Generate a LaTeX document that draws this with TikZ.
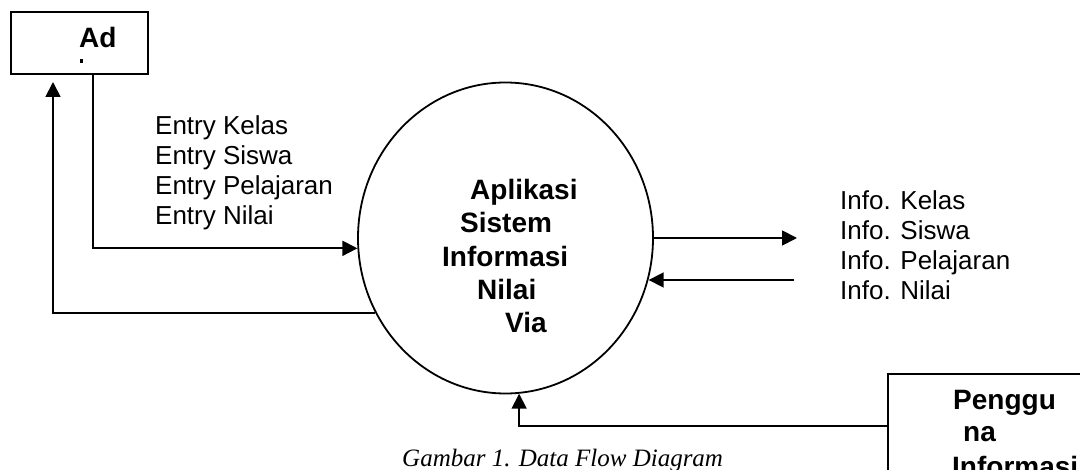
\documentclass[tikz,border=0pt]{standalone}
\usepackage{fontspec}
\setmainfont{Liberation Sans}
\newfontfamily\capfont{Liberation Serif}
\usetikzlibrary{calc, arrows.meta, shapes.geometric}

\begin{document}
\begin{tikzpicture}[x=1pt, y=-1pt,
    entity/.style={draw, line width=1.8pt, inner sep=0pt},
    flow/.style={line width=1.8pt, -{Triangle[length=15pt, width=15pt]}},
    lbl/.style={anchor=base west, inner sep=0pt, font=\fontsize{26}{30}\selectfont},
    proclbl/.style={anchor=base west, inner sep=0pt, font=\fontsize{28}{33}\bfseries\selectfont}]

      \useasboundingbox (0,0) rectangle (1080,470);
      \clip (0,0) rectangle (1080,470);

      % external entity: admin
      \node[entity, anchor=north west, minimum width=137pt, minimum height=62pt] (admin) at (10,11) {};
      \node[proclbl] (admintxt) at (79,48) {Ad};
      \fill (79.5,59.5) rectangle (83,63);

      % process
      \node[entity, ellipse, minimum width=295pt, minimum height=311pt] (proses) at (505.5,238) {};
      \node[proclbl] (p1) at (470,200) {Aplikasi};
      \node[proclbl] (p2) at (460,233) {Sistem};
      \node[proclbl] (p3) at (442,267) {Informasi};
      \node[proclbl] (p4) at (477,300) {Nilai};
      \node[proclbl] (p5) at (505,333) {Via};

      % external entity: pengguna
      \node[entity, anchor=north west, minimum width=260pt, minimum height=160pt] (pengguna) at (887,373) {};
      \node[proclbl] (u1txt) at (953,410) {Penggu};
      \node[proclbl] (u2txt) at (963,442) {na};
      \node[proclbl] (u3txt) at (952,477) {Informasi};

      % flow labels
      \foreach \t [count=\i] in {Entry Kelas, Entry Siswa, Entry Pelajaran, Entry Nilai} {
          \node[lbl] (entry\i) at (155, 135+30*\i-30) {\t};
      }
      \foreach \t [count=\i] in {Info. Kelas, Info. Siswa, Info. Pelajaran, Info. Nilai} {
          \node[lbl] (info\i) at (840, 210+30*\i-30) {\t};
      }

      \coordinate (adminout) at (93,73);
      \coordinate (adminin) at (53,82);
      \coordinate (infoout) at (797,238);
      \coordinate (infoin) at (794,280);
      \coordinate (penggunaout) at (887,426);

      \draw[flow] (adminout) |- (proses.184);
      \draw[flow] (proses.210) -| (adminin);
      \draw[flow] (proses.east) -- (infoout);
      \draw[flow] (infoin) -- (infoin -| proses.344);
      \draw[flow] (penggunaout) -| (proses.275);

      \node[anchor=base west, inner sep=0pt, font=\capfont\itshape\fontsize{25}{30}\selectfont] (caption) at (402,467) {Gambar 1. Data Flow Diagram};
    \end{tikzpicture}
\end{document}
